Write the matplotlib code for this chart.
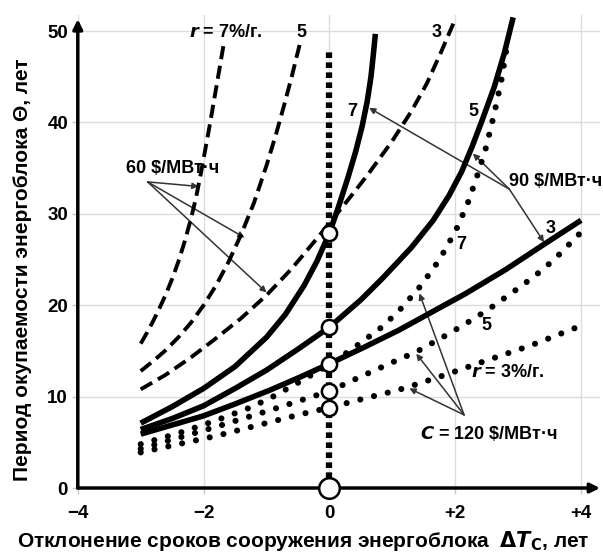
import matplotlib
matplotlib.use("Agg")
import matplotlib.pyplot as plt

plt.rcParams['font.family'] = ['Liberation Sans Narrow', 'Liberation Sans', 'DejaVu Sans']
plt.rcParams['font.weight'] = 'bold'
plt.rcParams['mathtext.fontset'] = 'custom'
plt.rcParams['mathtext.rm'] = 'Liberation Sans Narrow:bold'
plt.rcParams['mathtext.it'] = 'Liberation Sans Narrow:italic:bold'
plt.rcParams['mathtext.bf'] = 'Liberation Sans Narrow:bold'

# 60 $/MWh (dashed), r = 7, 5, 3 %
x60_7 = [-3.0, -2.9, -2.8, -2.7, -2.6, -2.5, -2.4, -2.3, -2.2, -2.12, -2.05, -1.98, -1.9, -1.82, -1.74, -1.67]
y60_7 = [15.8, 17.0, 18.3, 19.7, 21.2, 22.9, 24.8, 27.0, 29.5, 31.8, 34.2, 36.8, 39.8, 43.0, 46.2, 49.0]
x60_5 = [-3.0, -2.8, -2.6, -2.4, -2.2, -2.0, -1.8, -1.6, -1.4, -1.2, -1.0, -0.85, -0.72, -0.6, -0.46]
y60_5 = [12.8, 13.9, 15.1, 16.5, 18.1, 20.0, 22.2, 24.8, 27.8, 31.2, 35.3, 38.7, 41.9, 45.0, 48.9]
x60_3 = [-3.0, -2.6, -2.2, -1.8, -1.4, -1.0, -0.6, -0.2, 0.2, 0.6, 1.0, 1.3, 1.55, 1.78, 1.98]
y60_3 = [10.8, 12.4, 14.3, 16.4, 18.6, 21.1, 24.0, 27.3, 30.7, 34.2, 38.0, 41.2, 44.3, 47.8, 51.0]

# 90 $/MWh (solid)
x90_7 = [-3.0, -2.5, -2.0, -1.5, -1.0, -0.7, -0.4, -0.2, 0.0, 0.15, 0.3, 0.42, 0.52, 0.6, 0.66, 0.7, 0.73]
y90_7 = [7.1, 8.9, 10.9, 13.3, 16.5, 19.0, 22.2, 24.8, 27.9, 30.9, 34.1, 36.9, 39.6, 42.3, 45.0, 47.6, 49.7]
x90_5 = [-3.0, -2.5, -2.0, -1.5, -1.0, -0.5, 0.0, 0.5, 0.85, 1.3, 1.65, 1.9, 2.1, 2.27, 2.43, 2.62, 2.78, 2.92]
y90_5 = [6.4, 7.6, 9.0, 10.9, 12.9, 15.2, 17.6, 20.6, 23.0, 26.3, 29.3, 32.0, 34.6, 37.4, 40.3, 43.9, 47.6, 51.5]
x90_3 = [-3.0, -2.5, -2.0, -1.5, -0.95, -0.48, 0.0, 0.55, 1.11, 1.48, 2.17, 2.8, 3.44, 4.0]
y90_3 = [5.9, 6.9, 7.9, 9.2, 10.7, 12.1, 13.6, 15.4, 17.3, 18.7, 21.3, 23.9, 26.8, 29.3]

# 120 $/MWh (dotted)
x120_7 = [-3.0, -2.4, -1.8, -1.3, -0.95, -0.48, 0.0, 0.4, 0.85, 1.16, 1.46, 1.75, 2.01, 2.2, 2.35, 2.49, 2.62, 2.73, 2.82]
y120_7 = [4.8, 6.0, 7.4, 8.7, 9.8, 11.6, 13.5, 15.4, 17.7, 19.8, 22.2, 25.0, 28.2, 31.2, 34.2, 37.3, 41.0, 44.5, 48.3]
x120_5 = [-3.0, -2.4, -1.8, -0.95, -0.5, 0.0, 0.5, 1.08, 1.38, 1.8, 2.17, 2.54, 3.07, 3.39, 3.6, 4.0]
y120_5 = [4.3, 5.5, 6.7, 8.5, 9.5, 10.6, 12.2, 14.0, 14.9, 16.5, 18.0, 19.6, 22.2, 23.9, 25.2, 28.0]
x120_3 = [-3.0, -2.4, -1.8, -0.95, -0.5, 0.0, 0.5, 1.08, 1.27, 1.85, 2.43, 3.2, 3.94]
y120_3 = [3.9, 4.8, 5.7, 7.2, 8.0, 8.8, 9.7, 10.7, 11.1, 12.4, 13.8, 15.6, 17.6]

# marked points on the dT = 0 line
mark_y = [27.9, 17.6, 13.6, 10.6, 8.8]

fig = plt.figure(figsize=(6.03, 5.53), dpi=100)
ax = fig.add_axes([0.129, 0.1175, 0.866, 0.856])
ax.set_xlim(-4, 4.3)
ax.set_ylim(0, 51.8)

for s in ax.spines.values():
    s.set_visible(False)
ax.set_xticks([-4, -2, 0, 2, 4])
ax.set_xticklabels(['\u22124', '\u22122', '0', '+2', '+4'])
ax.set_yticks([0, 10, 20, 30, 40, 50])
ax.tick_params(axis='both', labelsize=13.5, length=4, color='#c8c8c8', width=1)
ax.tick_params(axis='x', pad=8)
ax.tick_params(axis='y', pad=3)
ax.grid(True, color='#dcdcdc', lw=1)
ax.set_axisbelow(True)

# axes with arrows
ax.annotate('', xy=(4.3, 0), xytext=(-4, 0),
            arrowprops=dict(arrowstyle='-|>', lw=2.5, color='black', mutation_scale=14,
                            shrinkA=0, shrinkB=0), annotation_clip=False)
ax.annotate('', xy=(-4, 51.3), xytext=(-4, 0),
            arrowprops=dict(arrowstyle='-|>', lw=2.5, color='black', mutation_scale=14,
                            shrinkA=0, shrinkB=0), annotation_clip=False)

ax.plot([0, 0], [0, 48], color='black', lw=4.5, linestyle=(0, (0.9, 0.7)), zorder=3)

dash = (0, (3.4, 1.7))
for xs, ys in [(x60_7, y60_7), (x60_5, y60_5), (x60_3, y60_3)]:
    ax.plot(xs, ys, color='black', lw=2.8, linestyle=dash, zorder=4)
for xs, ys in [(x90_7, y90_7), (x90_5, y90_5), (x90_3, y90_3)]:
    ax.plot(xs, ys, color='black', lw=4, solid_capstyle='butt', solid_joinstyle='round', zorder=4)
for xs, ys in [(x120_7, y120_7), (x120_5, y120_5), (x120_3, y120_3)]:
    ax.plot(xs, ys, color='black', lw=4.4, linestyle=(0, (0.01, 2.3)),
            dash_capstyle='round', zorder=4)

ax.scatter([0] * len(mark_y), mark_y, s=120, facecolor='white', edgecolor='black',
           linewidth=1.8, zorder=6)
ax.scatter([0], [0], s=220, facecolor='white', edgecolor='black', linewidth=1.8,
           zorder=6, clip_on=False)

fs = 13
ax.text(-1.65, 49.8, r'$\mathit{r}$ = 7%/г.', fontsize=fs, ha='center', va='center')
ax.text(-0.45, 49.9, '5', fontsize=fs, ha='center', va='center')
ax.text(1.71, 49.9, '3', fontsize=fs, ha='center', va='center')
ax.text(0.36, 41.2, '7', fontsize=fs, ha='center', va='center')
ax.text(2.29, 41.2, '5', fontsize=fs, ha='center', va='center')
ax.text(2.09, 26.6, '7', fontsize=fs, ha='center', va='center')
ax.text(3.51, 28.4, '3', fontsize=fs, ha='center', va='center')
ax.text(2.5, 17.8, '5', fontsize=fs, ha='center', va='center')
ax.text(2.84, 12.6, r'$\mathit{r}$ = 3%/г.', fontsize=fs, ha='center', va='center')

arr = dict(arrowstyle='-|>', lw=1.1, color='#333333', mutation_scale=9, shrinkA=0, shrinkB=0)
ax.text(-2.5, 35.0, '60 $/МВт·ч', fontsize=fs, ha='center', va='center')
for tip in [(-2.08, 33.0), (-1.35, 27.4), (-1.0, 21.4)]:
    ax.annotate('', xy=tip, xytext=(-2.89, 33.5), arrowprops=arr)

ax.text(3.6, 33.5, '90 $/МВт·ч', fontsize=fs, ha='center', va='center')
for tip in [(0.63, 41.6), (2.28, 36.6), (3.41, 26.9)]:
    ax.annotate('', xy=tip, xytext=(2.86, 32.7), arrowprops=arr)

ax.text(2.54, 6.0, r'$\mathit{C}$ = 120 \$/МВт·ч', fontsize=fs, ha='center', va='center')
for tip in [(1.43, 21.3), (1.38, 14.7), (1.27, 10.9)]:
    ax.annotate('', xy=tip, xytext=(2.14, 8.0), arrowprops=arr)

fig.text(0.503, 0.022, r'Отклонение сроков сооружения энергоблока  $\Delta\mathit{T}_{\mathrm{C}}$, лет',
         fontsize=15, ha='center', va='center')
fig.text(0.037, 0.512, 'Период окупаемости энергоблока Θ, лет', fontsize=15,
         rotation=90, ha='center', va='center')

fig.savefig('out.png', dpi=100)
